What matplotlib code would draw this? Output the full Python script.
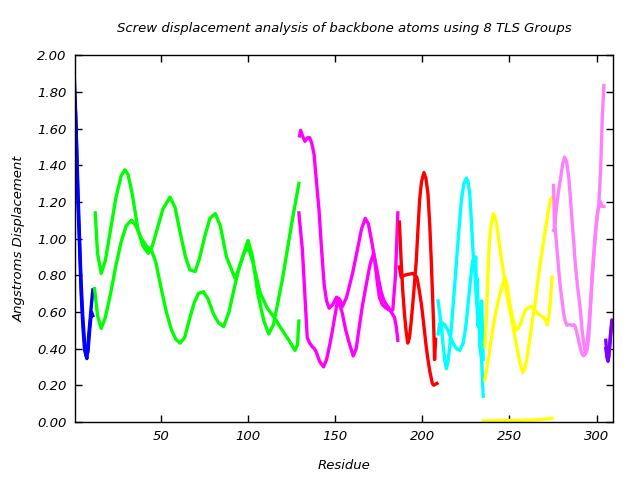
import matplotlib
matplotlib.use('Agg')
from matplotlib import pyplot as plt

# screw displacement per TLS group, two traces each (residue, angstroms)
blue_res_a = [0.2, 1.2, 2.2, 3.2, 4.1, 5.1, 6.1, 7.4, 8.5, 9.9, 10.8]
blue_val_a = [1.88, 1.61, 1.21, 0.95, 0.70, 0.52, 0.39, 0.345, 0.48, 0.63, 0.72]
blue_res_b = [0.3, 1.0, 2.0, 3.0, 4.0, 5.0, 6.0, 7.0, 8.0, 9.0, 10.0, 10.8]
blue_val_b = [1.80, 1.66, 1.35, 1.05, 0.78, 0.58, 0.44, 0.36, 0.38, 0.50, 0.60, 0.58]

green_res_a = [12.2, 13.5, 15.6, 18, 21, 24, 27, 29.1, 31, 33.5, 36.8, 39.5, 42.6, 45, 48, 51,
               55.1, 58, 61, 64, 66.5, 69.5, 72, 75, 78, 81.1, 84, 87.5, 92.6, 95.5, 99.9,
               102.5, 105.5, 109, 111.8, 114.5, 119.5, 125.3, 129.1]
green_val_a = [1.14, 0.92, 0.81, 0.88, 1.05, 1.22, 1.34, 1.375, 1.35, 1.24, 1.045, 0.96, 0.92,
               0.96, 1.06, 1.16, 1.226, 1.17, 1.03, 0.90, 0.83, 0.82, 0.89, 1.01, 1.11, 1.136,
               1.07, 0.90, 0.78, 0.86, 0.99, 0.90, 0.70, 0.55, 0.48, 0.53, 0.77, 1.10, 1.30]
green_res_b = [11.8, 13.5, 15.6, 18, 21, 24, 27, 30, 33, 35.5, 38.7, 41.5, 44.5, 47, 50, 53, 56,
               58.5, 60.9, 63.5, 66, 69, 71.4, 74.3, 77, 80, 83, 85.9, 89, 92, 95, 98, 100.3,
               103, 107, 111, 115.7, 119.5, 123.4, 126.8, 128.3, 129.1]
green_val_b = [0.727, 0.58, 0.51, 0.57, 0.70, 0.85, 0.98, 1.07, 1.10, 1.07, 1.0, 0.96, 0.935,
               0.87, 0.73, 0.60, 0.50, 0.45, 0.43, 0.46, 0.55, 0.65, 0.70, 0.71, 0.67, 0.59,
               0.54, 0.52, 0.60, 0.73, 0.85, 0.93, 0.945, 0.86, 0.70, 0.62, 0.56, 0.50, 0.445,
               0.39, 0.42, 0.55]

magenta_res_a = [129.5, 130.1, 131.2, 132.6, 134, 135.3, 136.5, 137.8, 139.3, 140.7, 142.2,
                 143.6, 145, 146.5, 148.5, 150.7, 152.5, 154.1, 156.5, 159.9, 162.5, 165,
                 167.2, 169, 170.8, 172.4, 174, 175.3, 177, 179.2, 181, 183, 184.5, 185.9]
magenta_val_a = [1.56, 1.59, 1.56, 1.53, 1.55, 1.55, 1.52, 1.46, 1.30, 1.15, 0.93, 0.75, 0.66,
                 0.62, 0.64, 0.68, 0.67, 0.63, 0.68, 0.81, 0.93, 1.05, 1.11, 1.08, 0.99, 0.90,
                 0.77, 0.68, 0.64, 0.62, 0.61, 0.61, 0.79, 1.14]
magenta_res_b = [129.1, 130.2, 131.1, 132.5, 133.9, 135.3, 136.8, 138, 139.1, 141, 143.2, 145,
                 146.8, 148.4, 150, 151.2, 152.5, 154.1, 156, 158, 160.3, 162, 163.8, 165.5,
                 167.6, 170, 172, 173.7, 175, 176.3, 178, 180.1, 182, 184, 185, 185.9]
magenta_val_b = [1.14, 1.03, 0.94, 0.70, 0.46, 0.43, 0.41, 0.40, 0.38, 0.33, 0.30, 0.34, 0.42,
                 0.50, 0.59, 0.66, 0.64, 0.59, 0.50, 0.43, 0.36, 0.40, 0.52, 0.63, 0.74, 0.86,
                 0.92, 0.84, 0.77, 0.71, 0.66, 0.63, 0.60, 0.57, 0.52, 0.445]

red_res_a = [186.8, 187.8, 188.7, 189.7, 190.6, 191.6, 192.6, 193.6, 195, 196.5, 197.4, 198.4,
             199.5, 200.9, 202, 203.2, 204.2, 205.1, 205.8, 206.5, 207, 207.6]
red_val_a = [1.09, 0.88, 0.72, 0.59, 0.50, 0.43, 0.46, 0.55, 0.70, 0.88, 1.04, 1.21, 1.31, 1.36,
             1.33, 1.245, 1.08, 0.88, 0.70, 0.52, 0.34, 0.45]
red_res_b = [186.8, 187.8, 189.7, 192, 194.5, 196.8, 198, 199.4, 200.8, 202.2, 203.2, 204.2,
             205.7, 206.5, 208.4]
red_val_b = [0.845, 0.79, 0.80, 0.805, 0.81, 0.79, 0.73, 0.645, 0.53, 0.41, 0.34, 0.28, 0.21,
             0.20, 0.21]

cyan_res_a = [209, 210, 210.9, 211.9, 212.8, 213.8, 214.7, 215.7, 216.6, 217.6, 218.6, 219.6,
              221, 222.4, 223.8, 225.3, 226.2, 227.2, 228.1, 229.1, 230.1, 230.6, 231.1, 231.6,
              232, 232.5, 233, 234, 234.9]
cyan_val_a = [0.66, 0.59, 0.52, 0.42, 0.34, 0.29, 0.33, 0.41, 0.51, 0.63, 0.75, 0.88, 1.05, 1.21,
              1.30, 1.33, 1.31, 1.245, 1.10, 0.92, 0.845, 0.90, 0.70, 0.78, 0.52, 0.60, 0.41,
              0.34, 0.14]
cyan_res_b = [209, 209.9, 211.4, 212.8, 214.7, 216.2, 217.6, 219.5, 221.5, 223.4, 224.3, 225.3,
              226.2, 227.2, 228.8, 230.1, 231.1, 232, 233, 234, 234.5, 234.9]
cyan_val_b = [0.48, 0.535, 0.54, 0.53, 0.50, 0.46, 0.43, 0.40, 0.39, 0.43, 0.48, 0.55, 0.64,
              0.735, 0.88, 0.83, 0.66, 0.55, 0.60, 0.66, 0.50, 0.34]

yellow_res_a = [235.9, 236.9, 237.6, 238.4, 239.5, 240.7, 241.6, 242.6, 244, 245.5, 247, 248.4,
                250, 251.3, 252.8, 254.2, 255.8, 257.6, 258.8, 259.9, 261.8, 263, 264.7, 266,
                267.6, 269, 270.5, 272, 273.4, 274.4]
yellow_val_a = [0.41, 0.61, 0.80, 0.97, 1.08, 1.135, 1.12, 1.08, 0.98, 0.88, 0.79, 0.70, 0.62,
                0.555, 0.48, 0.41, 0.33, 0.27, 0.29, 0.34, 0.46, 0.55, 0.645, 0.75, 0.86, 0.95,
                1.045, 1.13, 1.21, 1.225]
yellow_res_b = [235.9, 236.8, 237.8, 239.2, 240.7, 242, 243.6, 245.5, 247.4, 248.3, 249.3, 250.3,
                251.3, 252.5, 253.8, 255, 256.1, 257.5, 259, 261, 262.8, 264.5, 266.6, 268,
                269.5, 271, 271.8, 272.6, 273.4, 274.4]
yellow_val_b = [0.23, 0.28, 0.34, 0.43, 0.52, 0.59, 0.66, 0.735, 0.79, 0.76, 0.70, 0.64, 0.59,
                0.54, 0.50, 0.51, 0.53, 0.57, 0.61, 0.625, 0.63, 0.61, 0.59, 0.58, 0.57, 0.55,
                0.53, 0.58, 0.645, 0.79]
yellow_res_c = [235, 245, 255, 265, 270, 274.4]
yellow_val_c = [0.005, 0.007, 0.008, 0.011, 0.015, 0.02]

pink_res_a = [275.3, 275.9, 276.5, 277.2, 278.2, 279.2, 280.4, 281.6, 282.8, 284, 285, 285.9,
              286.9, 287.8, 289.2, 290.7, 291.6, 292.6, 293.6, 294.5, 295.5, 296.5, 297.4, 298.4,
              299.4, 300.3, 301.3, 302.3, 303.2, 304.2]
pink_val_a = [1.29, 1.045, 1.12, 1.19, 1.26, 1.32, 1.40, 1.444, 1.42, 1.335, 1.22, 1.10, 0.98,
              0.86, 0.73, 0.61, 0.51, 0.43, 0.37, 0.39, 0.46, 0.62, 0.79, 0.92, 1.045, 1.12,
              1.19, 1.37, 1.64, 1.835]
pink_res_b = [275.3, 276.2, 277.2, 278.2, 279.2, 280.2, 281.1, 282, 283, 284.5, 285.9, 287,
              287.8, 288.8, 289.7, 290.7, 291.7, 292.6, 293.6, 294.5, 295.5, 296.5, 297.6, 298.8,
              299.7, 300.7, 301.5, 302.3, 303.2, 304.2]
pink_val_b = [1.045, 1.06, 0.95, 0.84, 0.735, 0.66, 0.59, 0.55, 0.527, 0.53, 0.527, 0.53, 0.52,
              0.48, 0.445, 0.40, 0.37, 0.36, 0.38, 0.43, 0.52, 0.645, 0.80, 0.95, 1.06, 1.15,
              1.18, 1.20, 1.175, 1.175]

purple_res_a = [305.3, 306, 306.6, 307.7, 308.7]
purple_val_a = [0.445, 0.36, 0.33, 0.43, 0.55]
purple_res_b = [305.3, 306.2, 307, 308, 309]
purple_val_b = [0.40, 0.34, 0.35, 0.48, 0.555]

groups = [
    ('#0000ff', [(blue_res_a, blue_val_a), (blue_res_b, blue_val_b)]),
    ('#00ff00', [(green_res_a, green_val_a), (green_res_b, green_val_b)]),
    ('#ff00ff', [(magenta_res_a, magenta_val_a), (magenta_res_b, magenta_val_b)]),
    ('#ff0000', [(red_res_a, red_val_a), (red_res_b, red_val_b)]),
    ('#00ffff', [(cyan_res_a, cyan_val_a), (cyan_res_b, cyan_val_b)]),
    ('#ffff00', [(yellow_res_a, yellow_val_a), (yellow_res_b, yellow_val_b),
                 (yellow_res_c, yellow_val_c)]),
    ('#ff80ff', [(pink_res_a, pink_val_a), (pink_res_b, pink_val_b)]),
    ('#8000ff', [(purple_res_a, purple_val_a), (purple_res_b, purple_val_b)]),
]

fig = plt.figure(figsize=(6.4, 4.8), dpi=100)
ax = fig.add_axes([0.117, 0.121, 0.841, 0.764])

for color, traces in groups:
    for res, val in traces:
        ax.plot(res, val, color=color, lw=2.4, solid_joinstyle='round')

ax.set_xlim(0.5, 309.5)
ax.set_ylim(0, 2.0)
ax.set_xticks([50, 100, 150, 200, 250, 300])
ax.set_yticks([i * 0.2 for i in range(11)])
ax.set_yticklabels(['%.2f' % (i * 0.2) for i in range(11)])

ax.tick_params(direction='in', length=5, width=1, top=True, right=True,
               labelsize=9.5, pad=6)
for lab in ax.get_xticklabels() + ax.get_yticklabels():
    lab.set_style('italic')
for sp in ax.spines.values():
    sp.set_linewidth(1)

ax.set_title('Screw displacement analysis of backbone atoms using 8 TLS Groups',
             fontsize=9.5, style='italic', pad=17)
ax.set_xlabel('Residue', fontsize=9.5, style='italic', labelpad=11)
ax.set_ylabel('Angstroms Displacement', fontsize=9.5, style='italic', labelpad=8)

fig.savefig('out.png', dpi=100)
